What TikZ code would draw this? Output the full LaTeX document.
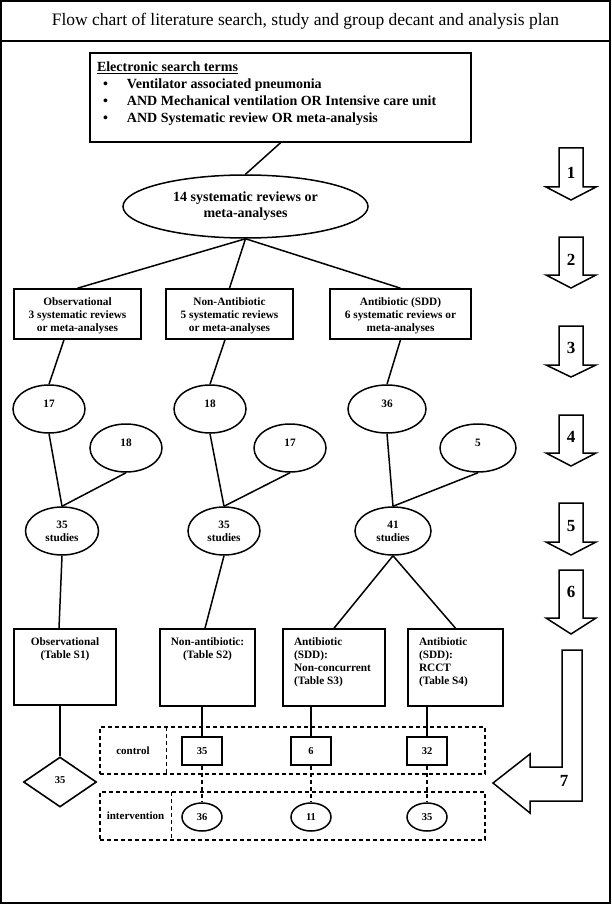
\documentclass[tikz,border=0pt]{standalone}
\usepackage{fontspec}
\setmainfont{Liberation Serif}
\usetikzlibrary{shapes.geometric,calc}
\begin{document}
\begin{tikzpicture}[x=1pt,y=-1pt,
  frameline/.style={draw, line width=1.9pt, inner sep=0pt},
  box/.style={draw, line width=1.6pt, inner sep=0pt, align=center, font=\fontsize{11.3}{13}\selectfont\bfseries},
  ell/.style={draw, ellipse, line width=1.5pt, inner sep=0pt, align=center, font=\fontsize{11.3}{13}\selectfont\bfseries},
  raisedtext/.style={text height=8pt, text depth=#1},
  conn/.style={line width=1.5pt},
  dconn/.style={line width=1.3pt, dash pattern=on 4pt off 3pt},
  dbox/.style={draw, line width=1.2pt, dash pattern=on 4pt off 3pt, inner sep=0pt},
  dline/.style={line width=1.2pt, dash pattern=on 4pt off 3pt},
  rowlabel/.style={inner sep=0pt, font=\fontsize{11}{13}\selectfont\bfseries},
  bigarrow/.style={draw, line width=1.5pt, line join=miter},
  numlabel/.style={font=\fontsize{17}{20}\selectfont\bfseries, inner sep=0pt}]
\useasboundingbox (0,0) rectangle (611,904);

% title and frame
\node[frameline, minimum width=609pt, minimum height=40pt, font=\fontsize{17.5}{20}\selectfont] (title) at (305.5,21) {Flow chart of literature search, study and group decant and analysis plan};
\node[frameline, minimum width=609pt, minimum height=862pt] (frame) at (305.5,472) {};

% search terms
\node[box, minimum width=381pt, minimum height=89pt, align=left, font=\fontsize{14}{17}\selectfont\bfseries] (search) at (280.5,97.5)
 {\parbox[c][89pt][t]{367pt}{\vspace*{9pt}\underline{Electronic search terms}\\
  \hspace*{6pt}\makebox[24pt][l]{\textbullet}Ventilator associated pneumonia\\
  \hspace*{6pt}\makebox[24pt][l]{\textbullet}AND Mechanical ventilation OR Intensive care unit\\
  \hspace*{6pt}\makebox[24pt][l]{\textbullet}AND Systematic review OR meta-analysis}};

\node[ell, minimum width=245pt, minimum height=63pt, font=\fontsize{14}{16}\selectfont\bfseries] (sr) at (245.5,206.5) {14 systematic reviews or\\meta-analyses};

% level boxes
\node[box, minimum width=127pt, minimum height=50pt] (obs) at (77.5,314)
 {\parbox[c][50pt][t]{125pt}{\centering\vspace*{9pt}Observational\\3 systematic reviews\\or meta-analyses}};
\node[box, minimum width=127pt, minimum height=50pt] (nab) at (229.5,314)
 {\parbox[c][50pt][t]{125pt}{\centering\vspace*{9pt}Non-Antibiotic\\5 systematic reviews\\or meta-analyses}};
\node[box, minimum width=141pt, minimum height=50pt] (ab) at (400.5,314)
 {\parbox[c][50pt][t]{139pt}{\centering\vspace*{9pt}Antibiotic (SDD)\\6 systematic reviews or\\meta-analyses}};

% counts
\node[ell, raisedtext=12pt, minimum width=72pt, minimum height=48pt] (e17) at (49,409) {17};
\node[ell, raisedtext=12pt, minimum width=72pt, minimum height=48pt] (e18) at (210,409) {18};
\node[ell, raisedtext=12pt, minimum width=78pt, minimum height=48pt] (e36) at (387,409) {36};
\node[ell, raisedtext=12pt, minimum width=72pt, minimum height=48pt] (f18) at (126,448) {18};
\node[ell, raisedtext=12pt, minimum width=72pt, minimum height=48pt] (f17) at (290,448) {17};
\node[ell, raisedtext=12pt, minimum width=76pt, minimum height=48pt] (f5) at (478,448) {5};

\node[ell, minimum width=73pt, minimum height=48pt] (s1) at (62,531) {35\\studies};
\node[ell, minimum width=72pt, minimum height=48pt] (s2) at (224,531) {35\\studies};
\node[ell, minimum width=76pt, minimum height=48pt] (s3) at (393,531) {41\\studies};

% tables
\node[box, minimum width=102pt, minimum height=76pt] (t1) at (65,667)
 {\parbox[c][76pt][t]{100pt}{\centering\vspace*{9pt}Observational\\(Table S1)}};
\node[box, minimum width=95pt, minimum height=77pt] (t2) at (207.5,667.5)
 {\parbox[c][77pt][t]{93pt}{\centering\vspace*{9pt}Non-antibiotic:\\(Table S2)}};
\node[box, minimum width=102pt, minimum height=77pt] (t3) at (334,667.5)
 {\parbox[c][77pt][t]{80pt}{\vspace*{9pt}Antibiotic\\(SDD):\\\mbox{Non-concurrent}\\(Table S3)}};
\node[box, minimum width=95pt, minimum height=77pt] (t4) at (455.5,667.5)
 {\parbox[c][77pt][t]{73pt}{\vspace*{9pt}Antibiotic\\(SDD):\\RCCT\\(Table S4)}};

% control / intervention rows
\node[dbox, minimum width=385pt, minimum height=47pt] (ctrlrow) at (292.5,750.5) {};
\node[rowlabel, minimum width=66pt, minimum height=47pt] (ctrlL) at (133,750.5) {control};
\draw[dline] (ctrlL.north east) -- (ctrlL.south east);
\node[dbox, minimum width=385pt, minimum height=48pt] (introw) at (292.5,816) {};
\node[rowlabel, minimum width=71pt, minimum height=48pt] (intL) at (135.5,816) {intervention};
\draw[dline] (intL.north east) -- (intL.south east);

\node[box, line width=2.4pt, minimum width=40pt, minimum height=28pt, font=\fontsize{10.5}{12}\selectfont\bfseries] (c1) at (202,751) {35};
\node[box, line width=2.4pt, minimum width=40pt, minimum height=28pt, font=\fontsize{10.5}{12}\selectfont\bfseries] (c2) at (311,751) {6};
\node[box, line width=2.4pt, minimum width=40pt, minimum height=28pt, font=\fontsize{10.5}{12}\selectfont\bfseries] (c3) at (427,751) {32};

\node[ell, minimum width=40pt, minimum height=28pt, font=\fontsize{10.5}{12}\selectfont\bfseries] (i1) at (202,817) {36};
\node[ell, minimum width=40pt, minimum height=28pt, font=\fontsize{10.5}{12}\selectfont\bfseries] (i2) at (311,817) {11};
\node[ell, minimum width=40pt, minimum height=28pt, font=\fontsize{10.5}{12}\selectfont\bfseries] (i3) at (427,817) {35};

\node[draw, diamond, line width=1.6pt, inner sep=0pt, minimum width=73pt, minimum height=50pt, font=\fontsize{10.5}{12}\selectfont\bfseries] (d) at (60,782) {\raisebox{3pt}{35}};

% connectors
\draw[conn] (search.south) -- (sr.north);
\draw[conn] (sr.south) -- (obs.north);
\draw[conn] (sr.south) -- (nab.north);
\draw[conn] (sr.south) -- (ab.north);
\draw[conn] ($(obs.south)+(-13.5,0)$) -- (e17.north);
\draw[conn] ($(nab.south)+(-4.5,0)$) -- (e18.north);
\draw[conn] (ab.south) -- (e36.north);
\draw[conn] (e17.south) -- (s1.north);
\draw[conn] (f18.south) -- (s1.north);
\draw[conn] (e18.south) -- (s2.north);
\draw[conn] (f17.south) -- (s2.north);
\draw[conn] (e36.south) -- (s3.north);
\draw[conn] (f5.south) -- (s3.north);
\draw[conn] (s1.south) -- ($(t1.north)+(-6,0)$);
\draw[conn] (s2.south) -- ($(t2.north)+(-2.5,0)$);
\draw[conn] (s3.south) -- (t3.north);
\draw[conn] (s3.south) -- (t4.north);
\draw[conn] (t1.south -| d.north) -- (d.north);
\draw[conn] (t2.south -| c1.north) -- (c1.north);
\draw[conn] (t3.south -| c2.north) -- (c2.north);
\draw[conn] (t4.south -| c3.north) -- (c3.north);
\draw[dconn] (c1.south) -- (i1.north);
\draw[dconn] (c2.south) -- (i2.north);
\draw[dconn] (c3.south) -- (i3.north);

% step arrows
\foreach \t/\h/\p/\n/\ly in {148/187/200/1/173, 237/275/288/2/260, 326/365/377/3/348, 415/453/466/4/437, 503/542/555/5/526, 570/618/634/6/592} {
  \draw[bigarrow] (559,\t) -- (583,\t) -- (583,\h) -- (596,\h) -- (571,\p) -- (546,\h) -- (559,\h) -- cycle;
  \node[numlabel] (a\n) at (571,\ly) {\n};
}
\draw[bigarrow] (562,650) -- (582,650) -- (582,801) -- (530,801) -- (530,813) -- (493,783) -- (530,754) -- (530,767) -- (562,767) -- cycle;
\node[numlabel] (a7) at (564,781) {7};
\end{tikzpicture}
\end{document}
